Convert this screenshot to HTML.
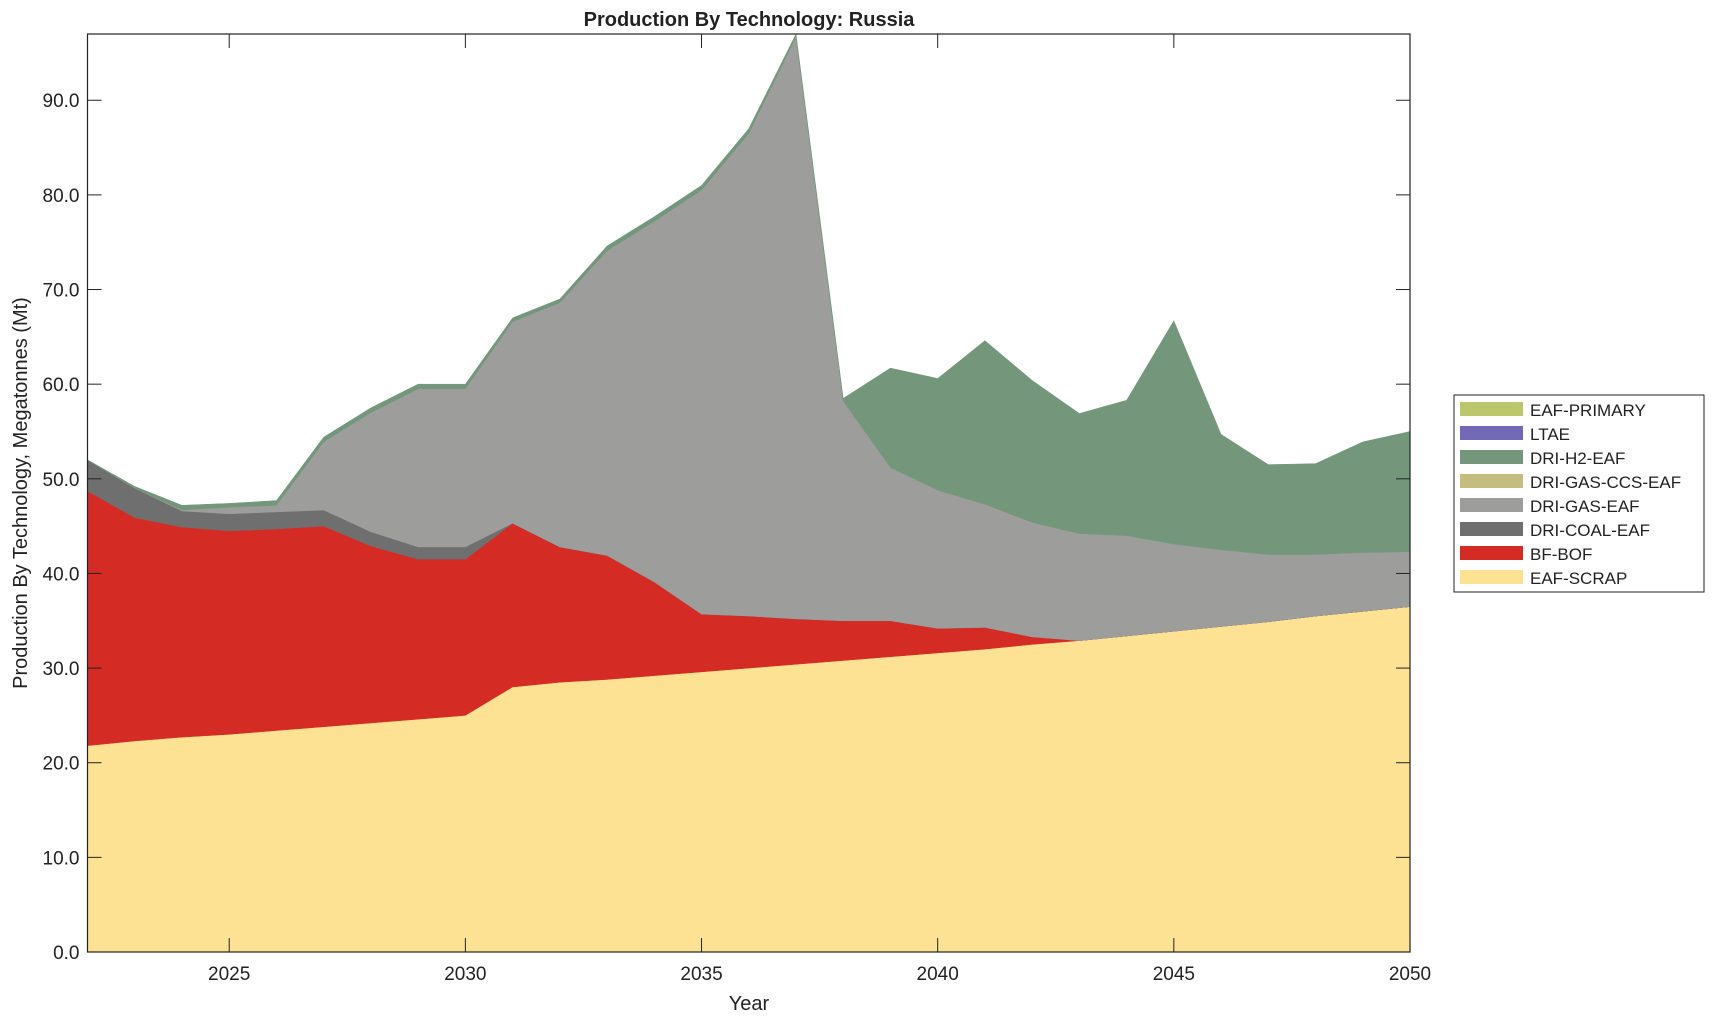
<!DOCTYPE html>
<html><head><style>
body{margin:0;background:#fff;}
svg text{font-family:"Liberation Sans",Arial,sans-serif;fill:#222;}
</style></head><body>
<svg id="s" width="1715" height="1020" xmlns="http://www.w3.org/2000/svg">
<rect width="1715" height="1020" fill="#fff"/>
<g id="areas"></g>
<g id="axes"></g>
<text x="749" y="26" font-size="20" font-weight="bold" text-anchor="middle">Production By Technology: Russia</text>
<text x="749" y="1010" font-size="20" text-anchor="middle">Year</text>
<text transform="translate(27,493) rotate(-90)" font-size="20" text-anchor="middle">Production By Technology, Megatonnes (Mt)</text>
<g id="leg"></g>
</svg>
<script>
const L=87.5,R=1410,T=34,B=952,Y0=2022,Y1=2050,YM=97;
const X=y=>L+(y-Y0)*(R-L)/(Y1-Y0), V=v=>B-v*(B-T)/YM;
const scrap=[21.8,22.3,22.7,23.0,23.4,23.8,24.2,24.6,25.0,28.0,28.5,28.8,29.2,29.6,30.0,30.4,30.8,31.2,31.6,32.0,32.5,32.9,33.4,33.9,34.4,34.9,35.5,36.0,36.5];
let bf=[48.7,45.9,44.9,44.5,44.7,45.0,42.9,41.5,41.5,45.3,42.8,41.9,39.1,35.7,35.5,35.2,35.0,35.0,34.2,34.3,33.3,32.9];
while(bf.length<29)bf.push(scrap[bf.length]);
let coal=[52.0,49.0,46.6,46.3,46.5,46.7,44.4,42.8,42.8,45.3];
while(coal.length<29)coal.push(bf[coal.length]);
const gas=[52.0,49.0,46.7,47.0,47.2,53.9,57.0,59.5,59.5,66.6,68.6,74.1,77.2,80.5,86.5,96.7,58.2,51.2,48.8,47.3,45.4,44.2,44.0,43.1,42.5,42.0,42.0,42.2,42.3];
const h2=[52.0,49.2,47.2,47.4,47.7,54.4,57.5,60.0,60.0,67.0,69.0,74.6,77.7,81.0,87.0,97,58.5,61.7,60.6,64.6,60.4,56.9,58.3,66.7,54.7,51.5,51.6,53.9,55.0];
const zero=scrap.map(()=>0);
const layers=[[zero,scrap,"#fee293"],[scrap,bf,"#d42b25"],[bf,coal,"#6f6f6f"],[coal,gas,"#9d9d9b"],[gas,h2,"#74977c"]];
let a="";
for(const [lo,hi,c] of layers){
 let p=[];for(let i=0;i<29;i++)p.push(X(Y0+i)+","+V(hi[i]));
 for(let i=28;i>=0;i--)p.push(X(Y0+i)+","+V(lo[i]));
 a+=`<polygon points="${p.join(" ")}" fill="${c}" stroke="${c}" stroke-width="0.5"/>`;
}
document.getElementById("areas").innerHTML=a;
let ax=`<rect x="${L}" y="${T}" width="${R-L}" height="${B-T}" fill="none" stroke="#222" stroke-width="1.2"/>`;
for(let v=0;v<=90;v+=10){const y=V(v);ax+=`<line x1="${L}" x2="${L+14}" y1="${y}" y2="${y}" stroke="#222"/><line x1="${R-14}" x2="${R}" y1="${y}" y2="${y}" stroke="#222"/><text x="${L-8}" y="${y+7}" font-size="19" text-anchor="end">${v.toFixed(1)}</text>`;}
for(let yr=2025;yr<=2050;yr+=5){const x=X(yr);ax+=`<line x1="${x}" x2="${x}" y1="${B}" y2="${B-14}" stroke="#222"/><line x1="${x}" x2="${x}" y1="${T}" y2="${T+14}" stroke="#222"/><text x="${x}" y="${B+28}" font-size="19" text-anchor="middle">${yr}</text>`;}
document.getElementById("axes").innerHTML=ax;
const leg=[["EAF-PRIMARY","#bcc76d"],["LTAE","#7469b7"],["DRI-H2-EAF","#74977c"],["DRI-GAS-CCS-EAF","#c5bd7f"],["DRI-GAS-EAF","#9d9d9b"],["DRI-COAL-EAF","#6f6f6f"],["BF-BOF","#d42b25"],["EAF-SCRAP","#fee293"]];
let g=`<rect x="1454" y="395" width="250" height="197" fill="#fff" stroke="#222"/>`;
leg.forEach(([n,c],i)=>{const y=410+i*24;g+=`<rect x="1460" y="${y-8}" width="63" height="14" fill="${c}"/><text x="1530" y="${y+6}" font-size="17">${n}</text>`;});
document.getElementById("leg").innerHTML=g;
</script>
</body></html>
